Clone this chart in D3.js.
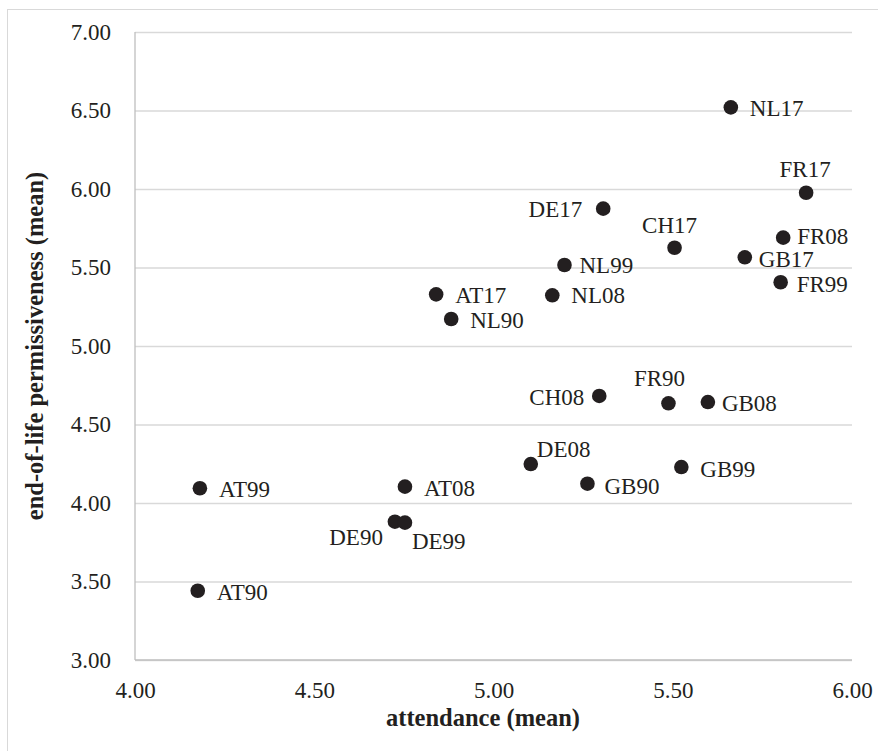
<!DOCTYPE html>
<html>
<head>
<meta charset="utf-8">
<script src="https://cdn.jsdelivr.net/npm/d3@7"></script>
<style>
  body { margin: 0; background: #fff; }
</style>
</head>
<body>
<svg id="chart" width="878" height="751"></svg>
<script>

// wave labels (country + survey year)
const labels = ["AT90", "AT99", "AT08", "AT17",
                "CH08", "CH17",
                "DE90", "DE99", "DE08", "DE17",
                "FR90", "FR99", "FR08", "FR17",
                "GB90", "GB99", "GB08", "GB17",
                "NL90", "NL99", "NL08", "NL17"];

// attendance (mean)
const attendance = [4.175, 4.181, 4.753, 4.840,
                    5.295, 5.505,
                    4.725, 4.753, 5.104, 5.306,
                    5.488, 5.801, 5.808, 5.872,
                    5.262, 5.524, 5.598, 5.701,
                    4.882, 5.198, 5.164, 5.662];

// end-of-life permissiveness (mean)
const permissiveness = [3.441, 4.094, 4.104, 5.329,
                        4.682, 5.626,
                        3.881, 3.875, 4.248, 5.875,
                        4.635, 5.406, 5.690, 5.976,
                        4.123, 4.229, 4.643, 5.565,
                        5.172, 5.516, 5.323, 6.520];

const xTicks = [4.00, 4.50, 5.00, 5.50, 6.00];
const yTicks = [3.00, 3.50, 4.00, 4.50, 5.00, 5.50, 6.00, 6.50, 7.00];

// label placement: [anchor, dx, dy] relative to the marker
const labelPlace = {
  AT90: ["start", 19, 9],   AT99: ["start", 19, 9],   AT08: ["start", 19, 9],   AT17: ["start", 19, 9],
  CH08: ["end", -15, 9],    CH17: ["middle", -5, -15],
  DE90: ["end", -12, 23],   DE99: ["start", 7, 26],   DE08: ["start", 6, -7],   DE17: ["end", -21, 8],
  FR90: ["middle", -9, -17], FR99: ["start", 16, 10], FR08: ["start", 14, 6],   FR17: ["middle", -1, -16],
  GB90: ["start", 17, 10],  GB99: ["start", 19, 10],  GB08: ["start", 14, 9],   GB17: ["start", 14, 10],
  NL90: ["start", 19, 9],   NL99: ["start", 15, 8],   NL08: ["start", 19, 8],   NL17: ["start", 19, 9]
};

const FONT = "Liberation Serif";
const INK = "#231f20";
// regular serif is set at 20px and scaled up (larger sizes fall back to a sans face here)
const BASE = 20, K = 23 / BASE;

const points = labels.map((l, i) => ({label: l, x: attendance[i], y: permissiveness[i]}));

const svg = d3.select("#chart");
const W = 878, H = 751;
const plot = {left: 135, right: 852, top: 32, bottom: 660};

const x = d3.scaleLinear().domain([4, 6]).range([plot.left, plot.right]);
const y = d3.scaleLinear().domain([3, 7]).range([plot.bottom, plot.top]);

// chart frame
svg.append("rect")
    .attr("x", 7.5).attr("y", 9.5)
    .attr("width", W + 20).attr("height", H + 20)
    .attr("fill", "none")
    .attr("stroke", "#d9d9d9");

// y axis with gridlines
const yAxis = svg.append("g")
    .attr("transform", `translate(${plot.left},0)`)
    .call(d3.axisLeft(y)
        .tickValues(yTicks)
        .tickSize(-(plot.right - plot.left))
        .tickPadding(24)
        .tickFormat(d3.format(".2f")));
yAxis.select(".domain").remove();
yAxis.selectAll(".tick line").attr("stroke", "#d9d9d9").attr("stroke-width", 1.3);
yAxis.selectAll(".tick text").attr("x", -24 / K);

// x axis
const xAxis = svg.append("g")
    .attr("transform", `translate(0,${plot.bottom})`)
    .call(d3.axisBottom(x)
        .tickValues(xTicks)
        .tickSize(0)
        .tickPadding(22)
        .tickFormat(d3.format(".2f")));
xAxis.select(".domain").remove();
xAxis.selectAll(".tick text").attr("y", 22 / K);

[yAxis, xAxis].forEach(a => {
  a.attr("font-family", FONT).attr("font-size", BASE);
  a.selectAll(".tick text")
      .attr("transform", `scale(${K})`)
      .attr("fill", INK)
      .style("font-family", FONT)
      .style("font-size", BASE + "px");
});

// axis lines
svg.append("line")
    .attr("x1", plot.left).attr("x2", plot.right)
    .attr("y1", plot.bottom).attr("y2", plot.bottom)
    .attr("stroke", "#bfbfbf").attr("stroke-width", 1.3);
svg.append("line")
    .attr("x1", plot.left).attr("x2", plot.left)
    .attr("y1", plot.top).attr("y2", plot.bottom)
    .attr("stroke", "#bfbfbf").attr("stroke-width", 1.3);

// axis titles
svg.append("text")
    .attr("x", 483).attr("y", 726)
    .attr("text-anchor", "middle")
    .attr("fill", INK)
    .style("font-family", FONT)
    .style("font-size", "24.5px")
    .style("font-weight", "bold")
    .text("attendance (mean)");

svg.append("text")
    .attr("transform", `translate(43,${(plot.top + plot.bottom) / 2}) rotate(-90)`)
    .attr("text-anchor", "middle")
    .attr("fill", INK)
    .style("font-family", FONT)
    .style("font-size", "24.5px")
    .style("font-weight", "bold")
    .text("end-of-life permissiveness (mean)");

// markers
svg.append("g")
  .selectAll("circle")
  .data(points)
  .enter()
  .append("circle")
    .attr("cx", d => x(d.x))
    .attr("cy", d => y(d.y))
    .attr("r", 7.3)
    .attr("fill", INK);

// data labels
svg.append("g")
  .selectAll("text")
  .data(points)
  .enter()
  .append("text")
    .attr("transform", d => {
      const p = labelPlace[d.label];
      return `translate(${x(d.x) + p[1]},${y(d.y) + p[2]}) scale(${K})`;
    })
    .attr("text-anchor", d => labelPlace[d.label][0])
    .attr("fill", INK)
    .style("font-family", FONT)
    .style("font-size", BASE + "px")
    .text(d => d.label);

</script>
</body>
</html>
